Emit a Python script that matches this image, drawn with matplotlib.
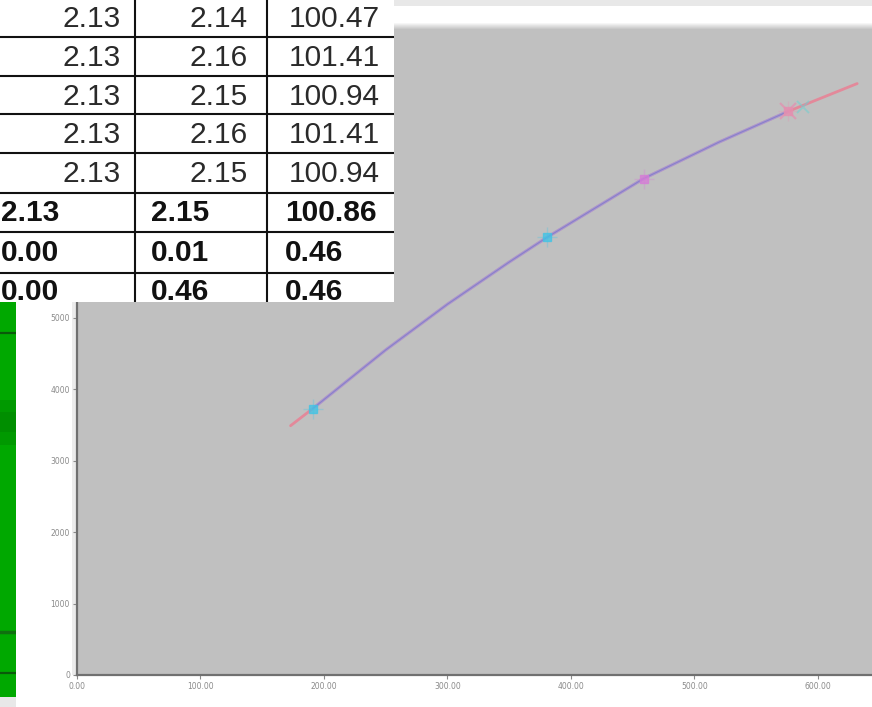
import matplotlib
matplotlib.use("Agg")
import matplotlib.pyplot as plt
import numpy as np
from matplotlib.patches import Rectangle

# ---------------- data ----------------
curve_x = [173, 191, 250, 300, 350, 381, 420, 459, 520, 576, 632]
curve_y = [3490, 3730, 4550, 5190, 5780, 6130, 6540, 6950, 7460, 7890, 8280]
std_x = [191, 381, 459, 576]
std_y = [3730, 6130, 6950, 7890]
std_colors = ["#3fc4e6", "#3fc4e6", "#d77ad8", "#e58fb0"]

x_ticks = [0, 100, 200, 300, 400, 500, 600]
x_tick_labels = ["0.00", "100.00", "200.00", "300.00", "400.00", "500.00", "600.00"]
y_ticks = [0, 1000, 2000, 3000, 4000, 5000]
y_tick_labels = ["0", "1000", "2000", "3000", "4000", "5000"]

table_col1 = ["2.13", "2.13", "2.13", "2.13", "2.13"]
table_col2 = ["2.14", "2.16", "2.15", "2.16", "2.15"]
table_col3 = ["100.47", "101.41", "100.94", "101.41", "100.94"]
summary_col1 = ["2.13", "0.00", "0.00"]
summary_col2 = ["2.15", "0.01", "0.46"]
summary_col3 = ["100.86", "0.46", "0.46"]

W, H = 872, 707
fig = plt.figure(figsize=(W / 100, H / 100), dpi=100)
fig.patch.set_facecolor("white")


def fax(x0, y0, x1, y1, **kw):
    """axes placed by pixel box (top-left origin)"""
    return fig.add_axes([x0 / W, 1 - y1 / H, (x1 - x0) / W, (y1 - y0) / H], **kw)


# ---------------- top strip ----------------
top = fax(394, 0, 872, 30)
top.set_xlim(0, 1); top.set_ylim(30, 0); top.axis("off")
top.add_patch(Rectangle((0, 0), 1, 6, color="#e8e8e8", lw=0))
grad = np.linspace(1.0, 0.753, 8).reshape(-1, 1)
top.imshow(np.repeat(grad, 2, axis=1), cmap="gray", vmin=0, vmax=1,
           extent=(0, 1, 30, 22), aspect="auto")

# faint shadow strip left of the y axis
sh = fax(72, 302, 77, 675)
sh.axis("off")
sh.add_patch(Rectangle((0, 0), 1, 1, color="#ececec", lw=0, transform=sh.transAxes))

# ---------------- main chart ----------------
ax = fax(77, 30, 872, 675)
ax.set_facecolor("#c0c0c0")
ax.set_xlim(0, 644)
ax.set_ylim(0, 9030)
for s in ["top", "right"]:
    ax.spines[s].set_visible(False)
for s in ["left", "bottom"]:
    ax.spines[s].set_color("#707070")
    ax.spines[s].set_linewidth(1.6)
ax.set_xticks(x_ticks)
ax.set_xticklabels(x_tick_labels)
ax.set_yticks(y_ticks)
ax.set_yticklabels(y_tick_labels)
ax.tick_params(axis="both", direction="out", length=3, width=0.8,
               colors="#8a8a8a", labelsize=5.5, pad=2)

# pink underlying line
ax.plot(curve_x, curve_y, color="#e3899a", lw=2.0, solid_capstyle="round", zorder=2)
# lavender main line over the central part
ax.plot(curve_x[1:-1], curve_y[1:-1], color="#a39ad8", lw=2.2, zorder=3, alpha=0.9)
ax.plot(curve_x[1:-1], curve_y[1:-1], color="#8a80c8", lw=0.8, zorder=3)
# standard points
for sx, sy, c in zip(std_x, std_y, std_colors):
    ax.plot([sx], [sy], marker="+", ms=14, mew=1.0, color=c, alpha=0.3, zorder=4)
    ax.plot([sx], [sy], marker="s", ms=6, color=c, mec=c, alpha=0.75, zorder=5)
ax.plot([std_x[-1]], [std_y[-1]], marker="x", ms=12, mew=1.6, color="#e58fb0",
        alpha=0.7, zorder=5)
ax.plot([std_x[-1] + 12], [std_y[-1] + 60], marker="x", ms=9, mew=1.4, color="#6fd0d0",
        alpha=0.55, zorder=5)

# ---------------- green panel ----------------
g = fax(0, 302, 16, 707)
g.set_xlim(0, 16); g.set_ylim(707, 302); g.axis("off")
g.add_patch(Rectangle((0, 302), 16, 395, color="#00a800", lw=0))
g.add_patch(Rectangle((0, 400), 16, 45, color="#009400", lw=0, alpha=0.7))
g.add_patch(Rectangle((0, 412), 16, 20, color="#008800", lw=0, alpha=0.6))
for yy, c, lw in [(333, "#0a5a0a", 1.6), (632, "#0f700f", 2.5), (673, "#0a5a0a", 1.6)]:
    g.plot([0, 16], [yy, yy], color=c, lw=lw)
g.add_patch(Rectangle((0, 697), 16, 10, color="#e8e8e8", lw=0))

# ---------------- table ----------------
t = fax(0, 0, 394, 302)
t.set_xlim(0, 394); t.set_ylim(302, 0)
t.set_facecolor("white")
for s in t.spines.values():
    s.set_visible(False)
t.set_xticks([]); t.set_yticks([])
row_lines = [37, 76, 114, 153, 193, 232, 273]
for yy in row_lines:
    t.plot([0, 394], [yy, yy], color="#111111", lw=1.5)
for xx in [135, 267]:
    t.plot([xx, xx], [0, 302], color="#111111", lw=1.5)

normal_centers = [18, 57, 96, 134, 173]
fs = 21.5
for i, yc in enumerate(normal_centers):
    for x_r, val in [(121, table_col1[i]), (248, table_col2[i]), (380, table_col3[i])]:
        t.text(x_r, yc + 1, val, ha="right", va="center", fontsize=fs,
               family="Liberation Sans", color="#2a2a2a")
bold_centers = [212, 252, 291]
for i, yc in enumerate(bold_centers):
    for x_l, val in [(1, summary_col1[i]), (151, summary_col2[i]), (285, summary_col3[i])]:
        t.text(x_l, yc + 1, val, ha="left", va="center", fontsize=fs,
               family="Liberation Sans", fontweight="bold", color="#111111",
               clip_on=True)

fig.savefig("out.png", dpi=100, facecolor="white")
